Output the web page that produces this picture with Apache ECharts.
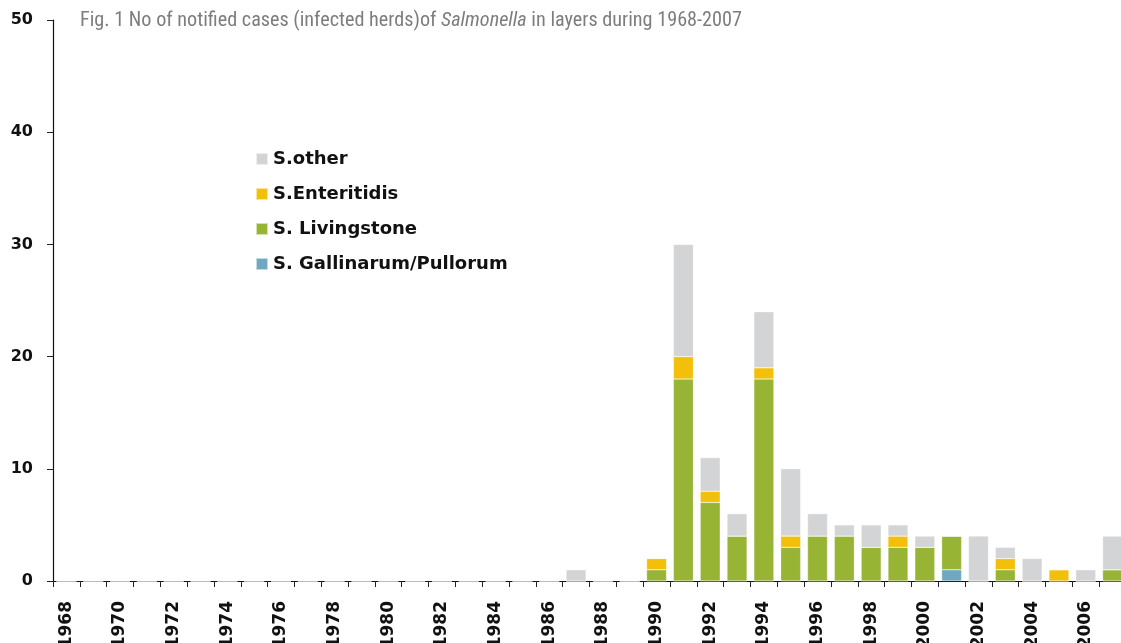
<!DOCTYPE html>
<html>
<head>
<meta charset="utf-8">
<style>
  html, body { margin: 0; padding: 0; background: #fff; }
  #chart { width: 1121px; height: 643px; }
</style>
<script src="https://cdn.jsdelivr.net/npm/echarts@6/dist/echarts.min.js"></script>
</head>
<body>
<div id="chart"></div>
<script>
// years 1968-2007
const years = []
for (let y = 1968; y <= 2007; y++) years.push(String(y))

// values per year (1968 .. 2007)
const gallinarum = [0,0,0,0,0,0,0,0,0,0, 0,0,0,0,0,0,0,0,0,0, 0,0,0,0,0,0,0,0,0,0, 0,0,0,1,0,0,0,0,0,0]
const livingstone = [0,0,0,0,0,0,0,0,0,0, 0,0,0,0,0,0,0,0,0,0, 0,0,1,18,7,4,18,3,4,4, 3,3,3,3,0,1,0,0,0,1]
const enteritidis = [0,0,0,0,0,0,0,0,0,0, 0,0,0,0,0,0,0,0,0,0, 0,0,1,2,1,0,1,1,0,0, 0,1,0,0,0,1,0,1,0,0]
const other = [0,0,0,0,0,0,0,0,0,0, 0,0,0,0,0,0,0,0,0,1, 0,0,0,10,3,2,5,6,2,1, 2,1,1,0,4,1,2,0,1,3]

const yTicks = [0, 10, 20, 30, 40, 50]

const colors = {
  other: '#d3d4d6',
  enteritidis: '#f2bf0a',
  livingstone: '#97b435',
  gallinarum: '#6fa8c0',
}

const boldFont = 'DejaVu Sans, Verdana, sans-serif'
const narrowFont = 'Roboto Condensed, Liberation Sans Narrow, sans-serif'
const chart = echarts.init(document.getElementById('chart'), null, { renderer: 'canvas' })

function bar(name, data, color) {
  return {
    name, type: 'bar', stack: 'all', data,
    barWidth: 20,
    itemStyle: { color, borderColor: 'rgba(255,255,255,0.6)', borderWidth: 0.5 },
  }
}

chart.setOption({
  animation: false,
  title: {
    text: 'Fig. 1 No of notified cases (infected herds)of {i|Salmonella} in layers during 1968-2007',
    left: 75, top: 6,
    textStyle: {
      fontFamily: narrowFont,
      fontSize: 20.2, fontWeight: 'normal', color: '#7d7d7d',
      rich: {
        i: { fontFamily: narrowFont, fontSize: 20.2, fontStyle: 'italic', color: '#7d7d7d' },
      },
    },
  },
  legend: {
    orient: 'vertical',
    left: 250, top: 145,
    itemWidth: 12, itemHeight: 12, itemGap: 17, icon: 'rect',
    textStyle: {
      fontFamily: boldFont,
      fontSize: 18, fontWeight: 'bold', color: '#111',
    },
    data: ['S.other', 'S.Enteritidis', 'S. Livingstone', 'S. Gallinarum/Pullorum'],
  },
  grid: { left: 53, top: 20, right: -5, bottom: 62, containLabel: false, outerBoundsMode: 'none' },
  xAxis: {
    type: 'category',
    data: years,
    axisLine: { lineStyle: { color: '#111', width: 1.2 } },
    axisTick: { show: true, alignWithLabel: false, interval: 0, length: 6, lineStyle: { color: '#222' } },
    axisLabel: {
      interval: 1, rotate: 90, margin: 20,
      fontFamily: boldFont,
      fontSize: 17, fontWeight: 'bold', color: '#111',
    },
  },
  yAxis: {
    type: 'value',
    min: yTicks[0], max: yTicks[yTicks.length - 1], interval: 10,
    splitLine: { show: false },
    axisLine: { show: true, lineStyle: { color: '#111', width: 1.2 } },
    axisTick: { show: true, length: 6, lineStyle: { color: '#222' } },
    axisLabel: {
      margin: 20,
      fontFamily: boldFont,
      fontSize: 16, fontWeight: 'bold', color: '#111',
    },
  },
  series: [
    bar('S. Gallinarum/Pullorum', gallinarum, colors.gallinarum),
    bar('S. Livingstone', livingstone, colors.livingstone),
    bar('S.Enteritidis', enteritidis, colors.enteritidis),
    bar('S.other', other, colors.other),
  ],
})
</script>
</body>
</html>
